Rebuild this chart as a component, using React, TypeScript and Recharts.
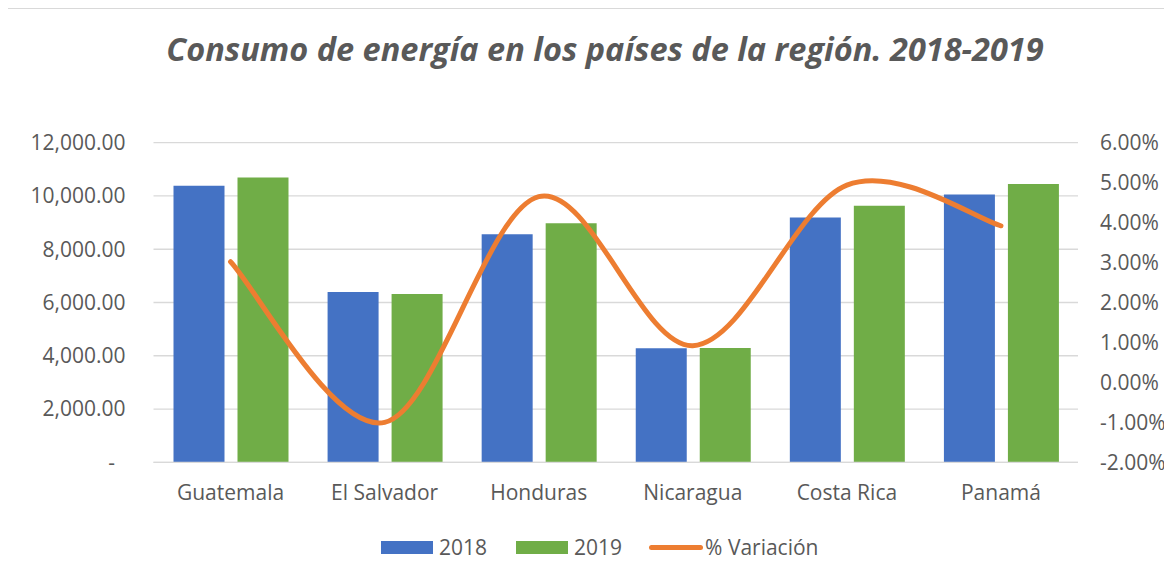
import React from "react";
import {
  ComposedChart,
  Bar,
  Line,
  XAxis,
  YAxis,
  CartesianGrid,
  Legend,
} from "recharts";

const categories = ["Guatemala", "El Salvador", "Honduras", "Nicaragua", "Costa Rica", "Panamá"];
const values2018 = [10379, 6390, 8567, 4278, 9193, 10056];
const values2019 = [10694, 6315, 8980, 4290, 9629, 10454];
const variation = [0.0302, -0.0100, 0.0465, 0.0092, 0.0494, 0.0392];
const leftTicks = [0, 2000, 4000, 6000, 8000, 10000, 12000];
const rightTicks = [-0.02, -0.01, 0, 0.01, 0.02, 0.03, 0.04, 0.05, 0.06];

const title = "Consumo de energía en los países de la región. 2018-2019";

const data = categories.map((c, i) => ({
  name: c,
  y2018: values2018[i],
  y2019: values2019[i],
  pct: variation[i],
}));

const BLUE = "#4472C4";
const GREEN = "#70AD47";
const ORANGE = "#ED7D31";
const TEXT = "#595959";
const GRID = "#D9D9D9";
const FONT = "'Open Sans', sans-serif";

// Catmull-Rom style smoothing similar to Excel's smoothed line
const smoothCurve: any = (context: any) => {
  let pts: number[][] = [];
  return {
    areaStart() {},
    areaEnd() {},
    lineStart() {
      pts = [];
    },
    lineEnd() {
      const n = pts.length;
      if (!n) return;
      context.moveTo(pts[0][0], pts[0][1]);
      for (let i = 0; i < n - 1; i++) {
        const p0 = pts[i - 1] || pts[i];
        const p1 = pts[i];
        const p2 = pts[i + 1];
        const p3 = pts[i + 2] || p2;
        const c1x = p1[0] + (p2[0] - p0[0]) / 6;
        const c1y = p1[1] + (p2[1] - p0[1]) / 6;
        const c2x = p2[0] - (p3[0] - p1[0]) / 6;
        const c2y = p2[1] - (p3[1] - p1[1]) / 6;
        context.bezierCurveTo(c1x, c1y, c2x, c2y, p2[0], p2[1]);
      }
    },
    point(x: number, y: number) {
      pts.push([+x, +y]);
    },
  };
};

const fmtLeft = (v: number) =>
  v === 0
    ? "-\u2002"
    : v.toLocaleString("en-US", { minimumFractionDigits: 2, maximumFractionDigits: 2 });
const fmtRight = (v: number) => (v * 100).toFixed(2) + "%";

const LegendContent = () => {
  const txt: React.CSSProperties = { fontFamily: FONT, fontSize: 21, color: TEXT, lineHeight: "24px" };
  return (
    <div style={{ display: "flex", alignItems: "center", paddingLeft: 381, height: 26 }}>
      <span style={{ width: 52, height: 13, background: BLUE, display: "inline-block" }} />
      <span style={{ ...txt, marginLeft: 6 }}>2018</span>
      <span style={{ width: 52, height: 13, background: GREEN, display: "inline-block", marginLeft: 29 }} />
      <span style={{ ...txt, marginLeft: 6 }}>2019</span>
      <span
        style={{
          width: 54,
          height: 5,
          borderRadius: 3,
          background: ORANGE,
          display: "inline-block",
          marginLeft: 27,
        }}
      />
      <span style={{ ...txt, marginLeft: 2 }}>% Variación</span>
    </div>
  );
};

export default function App() {
  return (
    <div
      style={{
        position: "relative",
        width: 1172,
        height: 579,
        margin: -8,
        overflow: "hidden",
        background: "#fff",
      }}
    >
      <div
        style={{
          position: "absolute",
          top: 29,
          left: 0,
          width: 1210,
          textAlign: "center",
          fontFamily: FONT,
          fontStyle: "italic",
          fontWeight: 700,
          fontSize: 32.5,
          color: TEXT,
          lineHeight: "40px",
          whiteSpace: "nowrap",
        }}
      >
        {title}
      </div>
      <div style={{ position: "absolute", left: 0, top: 0 }}>
        <ComposedChart
          width={1172}
          height={579}
          data={data}
          margin={{ top: 142.7, right: 14, bottom: 56.7, left: 53.5 }}
          barSize={51}
          barGap={13}
        >
          <CartesianGrid yAxisId="left" vertical={false} stroke={GRID} strokeWidth={1.3} />
          <XAxis
            dataKey="name"
            height={60}
            tickSize={0}
            tickMargin={23}
            axisLine={{ stroke: GRID, strokeWidth: 1.3 }}
            tick={{ fill: TEXT, fontSize: 21, fontFamily: FONT }}
            interval={0}
          />
          <YAxis
            yAxisId="left"
            orientation="left"
            width={100}
            domain={[0, 12000]}
            ticks={leftTicks}
            tickFormatter={fmtLeft}
            tickSize={0}
            tickMargin={28}
            axisLine={false}
            tickLine={false}
            tick={{ fill: TEXT, fontSize: 21, fontFamily: FONT }}
            interval={0}
          />
          <YAxis
            yAxisId="right"
            orientation="right"
            width={80}
            domain={[-0.02, 0.06]}
            ticks={rightTicks}
            tickFormatter={fmtRight}
            tickSize={0}
            tickMargin={22}
            axisLine={false}
            tickLine={false}
            tick={{ fill: TEXT, fontSize: 21, fontFamily: FONT }}
            interval={0}
          />
          <Bar yAxisId="left" dataKey="y2018" name="2018" fill={BLUE} isAnimationActive={false} />
          <Bar yAxisId="left" dataKey="y2019" name="2019" fill={GREEN} isAnimationActive={false} />
          <Line
            yAxisId="right"
            dataKey="pct"
            name="% Variación"
            type={smoothCurve}
            stroke={ORANGE}
            strokeWidth={5}
            strokeLinecap="round"
            dot={false}
            activeDot={false}
            isAnimationActive={false}
          />
          <Legend
            verticalAlign="middle"
            align="center"
            layout="horizontal"
            content={<LegendContent />}
            wrapperStyle={{ position: "absolute", top: 534, left: 0, width: 1172, margin: 0 }}
          />
        </ComposedChart>
      </div>
      <div
        style={{
          position: "absolute",
          left: 5,
          top: 7,
          width: 2,
          height: 572,
          background: GRID,
          zIndex: 5,
        }}
      />
      <div
        style={{
          position: "absolute",
          left: 5,
          top: 7,
          width: 1167,
          height: 2,
          background: GRID,
          zIndex: 5,
        }}
      />
    </div>
  );
}
